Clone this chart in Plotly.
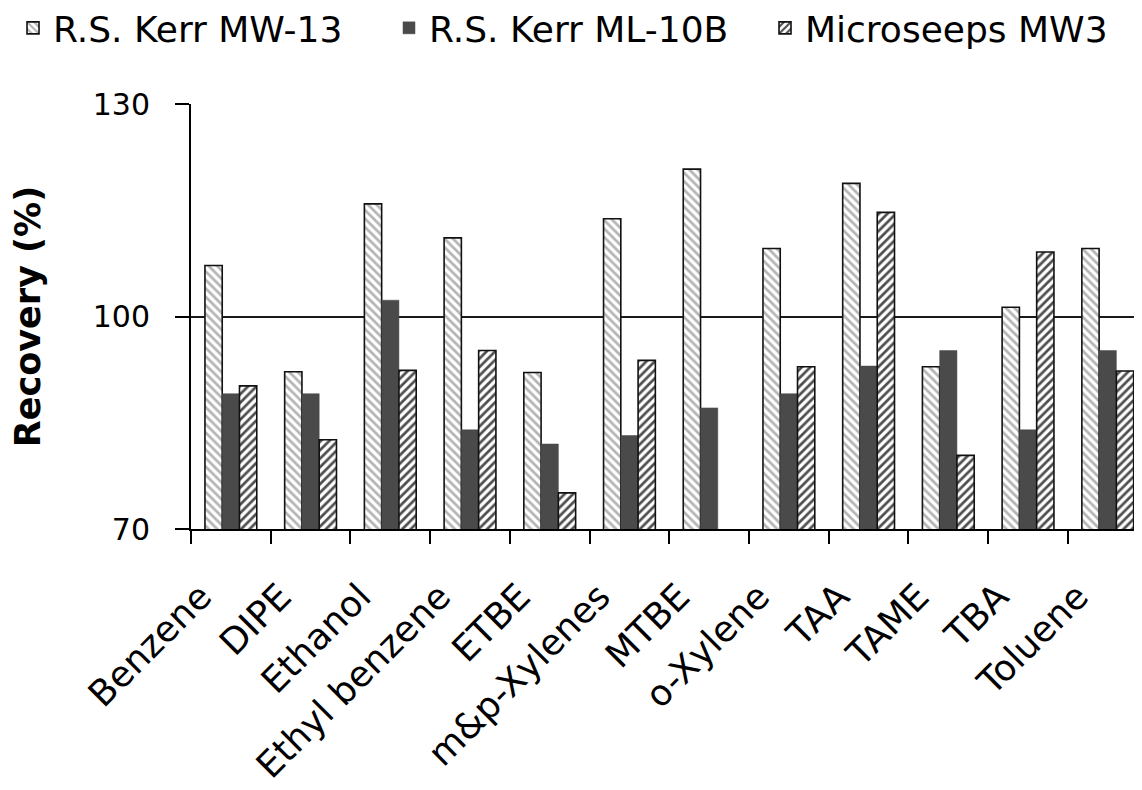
import plotly.graph_objects as go

categories = ["Benzene", "DIPE", "Ethanol", "Ethyl benzene", "ETBE", "m&p-Xylenes",
              "MTBE", "o-Xylene", "TAA", "TAME", "TBA", "Toluene"]
mw13 = [107.2, 92.2, 115.9, 111.1, 92.1, 113.8, 120.8, 109.6, 118.8, 92.9, 101.3, 109.6]
ml10b = [89.1, 89.1, 102.3, 84.0, 82.0, 83.2, 87.1, 89.1, 93.0, 95.2, 84.0, 95.2]
mw3 = [90.2, 82.6, 92.4, 95.2, 75.1, 93.8, None, 92.9, 114.7, 80.4, 109.1, 92.3]
series_names = ["R.S. Kerr MW-13", "R.S. Kerr ML-10B", "Microseeps MW3"]
y_ticks = [70, 100, 130]

FONT = "DejaVu Sans"

fig = go.Figure()
fig.add_trace(go.Bar(
    x=categories, y=mw13, name=series_names[0],
    marker=dict(color="white",
                pattern=dict(shape="\\", fgcolor="#b4b4b4", bgcolor="white",
                             size=6, solidity=0.45, fillmode="replace"),
                line=dict(color="#111111", width=1.6)),
))
fig.add_trace(go.Bar(
    x=categories, y=ml10b, name=series_names[1],
    marker=dict(color="#4a4a4a", line=dict(color="#4a4a4a", width=0.5)),
))
fig.add_trace(go.Bar(
    x=categories, y=mw3, name=series_names[2],
    marker=dict(color="white",
                pattern=dict(shape="/", fgcolor="#4e4e4e", bgcolor="white",
                             size=6, solidity=0.45, fillmode="replace"),
                line=dict(color="#111111", width=1.6)),
))

fig.update_layout(
    width=1142, height=790,
    margin=dict(l=183, r=0, t=96, b=269, autoexpand=False),
    paper_bgcolor="white", plot_bgcolor="white",
    barmode="group", bargap=0.35, bargroupgap=0,
    font=dict(family=FONT, color="black"),
    showlegend=True,
    legend=dict(orientation="h", x=-0.1856, y=1.179, xref="paper", yref="paper",
                xanchor="left", yanchor="middle",
                entrywidth=331, entrywidthmode="pixels",
                font=dict(family=FONT, size=36, color="black"),
                bgcolor="rgba(0,0,0,0)", traceorder="normal"),
    xaxis=dict(
        type="category", range=[-0.5, 11.53], automargin=False,
        showline=True, linecolor="black", linewidth=2,
        ticks="outside", tickson="boundaries", ticklen=13, tickwidth=1.6, tickcolor="black",
        tickangle=-45, tickfont=dict(family=FONT, size=36, color="black"),
        ticklabelshift=-30, ticklabelstandoff=30,
        showgrid=False, zeroline=False,
    ),
    yaxis=dict(
        range=[70, 130], tickvals=y_ticks, ticktext=[str(v) for v in y_ticks],
        automargin=False,
        showline=True, linecolor="black", linewidth=2,
        ticks="outside", ticklen=14, tickwidth=1.6, tickcolor="black",
        tickfont=dict(family=FONT, size=30, color="black"),
        ticklabelstandoff=19,
        showgrid=True, gridcolor="#1a1a1a", gridwidth=1.6, zeroline=False,
        title=dict(text="<b>Recovery (%)</b>", font=dict(family=FONT, size=35, color="black"),
                   standoff=46),
    ),
)

fig.write_html("out.html")
